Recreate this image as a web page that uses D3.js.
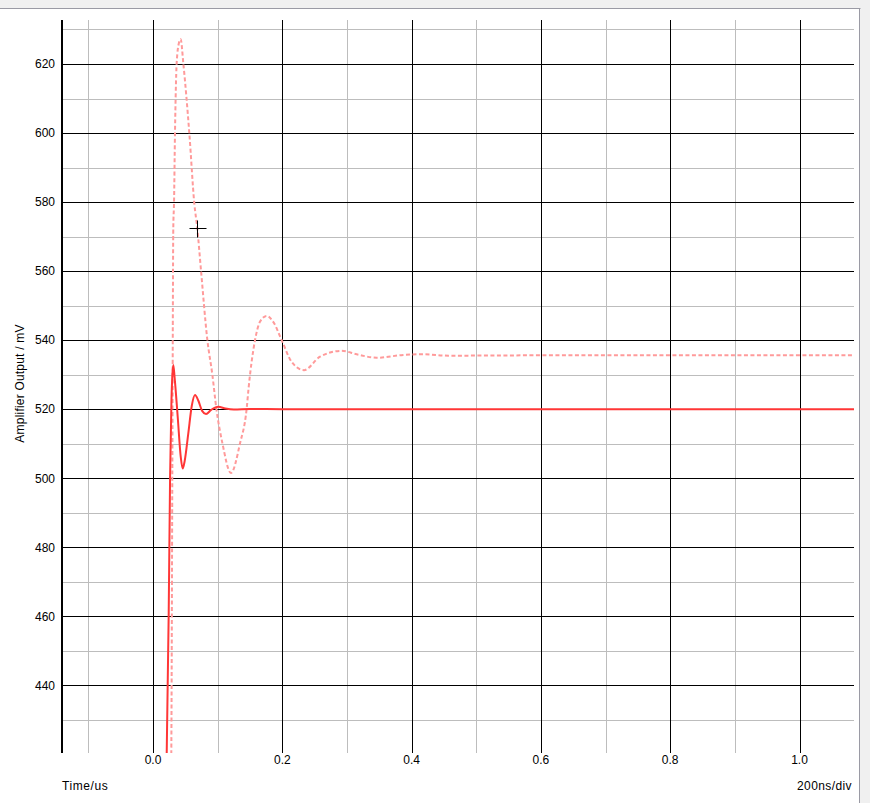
<!DOCTYPE html>
<html>
<head>
<meta charset="utf-8">
<script src="https://cdn.jsdelivr.net/npm/d3@7"></script>
<style>
  html, body { margin: 0; padding: 0; background: #fff; }
  svg { display: block; font-family: "Liberation Sans", Arial, sans-serif; }
</style>
</head>
<body>
<svg id="chart" width="870" height="803"></svg>
<script>
// ---- data (time in us, amplifier output in mV) ----
const solidTime = [0.0170, 0.0212, 0.0243, 0.0264, 0.0285, 0.0300, 0.0314, 0.0335, 0.0382, 0.0430, 0.0459,
  0.0490, 0.0546, 0.0600, 0.0650, 0.0700, 0.0760, 0.0820, 0.0900, 0.1010, 0.1120, 0.1250, 0.1500, 0.2000, 0.5000, 1.1000];
const solidValue = [390, 420.3, 461, 500, 522, 530, 532.8, 529, 517.8, 506, 502.8,
  505, 513, 521, 524.1, 522.5, 519.5, 518.6, 519.8, 520.7, 520.2, 519.9, 520.05, 520.0, 520.0, 520.0];

const dashedTime = [0.0260, 0.0283, 0.0299, 0.0314, 0.0325, 0.0340, 0.0366, 0.0400, 0.0428, 0.0469, 0.0562,
  0.0639, 0.0685, 0.0742, 0.0841, 0.0918, 0.0981, 0.1075, 0.1206, 0.1346, 0.1449, 0.1478, 0.1578, 0.1660, 0.1759,
  0.1870, 0.1990, 0.2145, 0.2336, 0.2583, 0.2919, 0.3150, 0.3460, 0.3870, 0.4180, 0.4570, 0.6000, 1.1000];
const dashedValue = [390, 420, 502, 572.8, 579.6, 599.9, 620.2, 626, 627.2, 620.2, 599.9,
  579.6, 572.4, 560.3, 540, 530, 520, 510, 501.5, 510.1, 520.2, 526, 540, 545.5, 547.0,
  545, 540, 533.7, 531.3, 535.2, 536.9, 535.9, 534.9, 535.7, 535.9, 535.5, 535.6, 535.6];

const xTickValues = [0.0, 0.2, 0.4, 0.6, 0.8, 1.0];
const xMinorValues = [-0.1, 0.1, 0.3, 0.5, 0.7, 0.9];
const yTickValues = [440, 460, 480, 500, 520, 540, 560, 580, 600, 620];
const yMinorValues = [430, 450, 470, 490, 510, 530, 550, 570, 590, 610, 630];
const cursorPoint = [0.0685, 572.4];

const xTitle = "Time/us";
const yTitle = "Amplifier Output / mV";
const scaleNote = "200ns/div";

// ---- layout ----
const svg = d3.select("#chart");
const plot = { left: 62, right: 854, top: 20, bottom: 753 };

const x = d3.scaleLinear().domain([0, 1]).range([153, 799.5]);
const y = d3.scaleLinear().domain([440, 620]).range([685.3, 64]);
const crisp = v => Math.round(v) + 0.5;

// window chrome
svg.append("rect").attr("x", 0).attr("y", 0).attr("width", 870).attr("height", 8).attr("fill", "#f0f0f0");
svg.append("rect").attr("x", 860).attr("y", 0).attr("width", 10).attr("height", 803).attr("fill", "#f0f0f0");
svg.append("line").attr("x1", 0).attr("x2", 860.5).attr("y1", 8.5).attr("y2", 8.5).attr("stroke", "#9a9aa4");
svg.append("line").attr("x1", 859.5).attr("x2", 859.5).attr("y1", 8.5).attr("y2", 803).attr("stroke", "#9a9aa4");

const grid = svg.append("g");
// minor gridlines
grid.selectAll(".hmin").data(yMinorValues).enter().append("line")
  .attr("x1", plot.left).attr("x2", plot.right)
  .attr("y1", d => crisp(y(d))).attr("y2", d => crisp(y(d)))
  .attr("stroke", "#bdbdbd");
grid.selectAll(".vmin").data(xMinorValues).enter().append("line")
  .attr("x1", d => crisp(x(d))).attr("x2", d => crisp(x(d)))
  .attr("y1", plot.top).attr("y2", plot.bottom)
  .attr("stroke", "#bdbdbd");
// major gridlines
grid.selectAll(".hmaj").data(yTickValues).enter().append("line")
  .attr("x1", plot.left).attr("x2", plot.right)
  .attr("y1", d => crisp(y(d))).attr("y2", d => crisp(y(d)))
  .attr("stroke", "#000");
grid.selectAll(".vmaj").data(xTickValues).enter().append("line")
  .attr("x1", d => crisp(x(d))).attr("x2", d => crisp(x(d)))
  .attr("y1", plot.top).attr("y2", plot.bottom)
  .attr("stroke", "#000");

// y axis line (thick)
svg.append("line").attr("x1", 62).attr("x2", 62).attr("y1", plot.top).attr("y2", plot.bottom)
  .attr("stroke", "#000").attr("stroke-width", 2);

// tick labels
svg.append("g").selectAll("text").data(yTickValues).enter().append("text")
  .attr("x", 55).attr("y", d => y(d)).attr("dy", "0.36em")
  .attr("text-anchor", "end").attr("font-size", 12).attr("fill", "#000")
  .text(d => d);
svg.append("g").selectAll("text").data(xTickValues).enter().append("text")
  .attr("x", d => x(d)).attr("y", 763.5)
  .attr("text-anchor", "middle").attr("font-size", 12).attr("fill", "#000")
  .text(d => d.toFixed(1));

// titles
svg.append("text").attr("x", 62).attr("y", 790).attr("font-size", 12)
  .attr("letter-spacing", 0.6).text(xTitle);
svg.append("text").attr("x", 852).attr("y", 790).attr("text-anchor", "end").attr("font-size", 12)
  .attr("letter-spacing", 0.4).text(scaleNote);
svg.append("text").attr("transform", "translate(24,383.5) rotate(-90)")
  .attr("text-anchor", "middle").attr("font-size", 12).attr("letter-spacing", 0.2).text(yTitle);

// clip
svg.append("clipPath").attr("id", "clip").append("rect")
  .attr("x", plot.left).attr("y", plot.top).attr("width", plot.right - plot.left).attr("height", plot.bottom - plot.top);

const line = d3.line().x(d => x(d[0])).y(d => y(d[1])).curve(d3.curveMonotoneX);
const series = svg.append("g").attr("clip-path", "url(#clip)");

series.append("path")
  .datum(dashedTime.map((t, i) => [t, dashedValue[i]]))
  .attr("d", line).attr("fill", "none")
  .attr("stroke", "#ff9a9a").attr("stroke-width", 2).attr("stroke-dasharray", "4,2.5");

series.append("path")
  .datum(solidTime.map((t, i) => [t, solidValue[i]]))
  .attr("d", line).attr("fill", "none")
  .attr("stroke", "#ff3636").attr("stroke-width", 2);

// cursor crosshair
const cx = Math.round(x(cursorPoint[0])) + 0.5, cy = Math.round(y(cursorPoint[1])) + 0.5;
svg.append("line").attr("x1", cx - 8).attr("x2", cx + 9).attr("y1", cy).attr("y2", cy).attr("stroke", "#000");
svg.append("line").attr("x1", cx).attr("x2", cx).attr("y1", cy - 8).attr("y2", cy + 9).attr("stroke", "#000");
</script>
</body>
</html>
